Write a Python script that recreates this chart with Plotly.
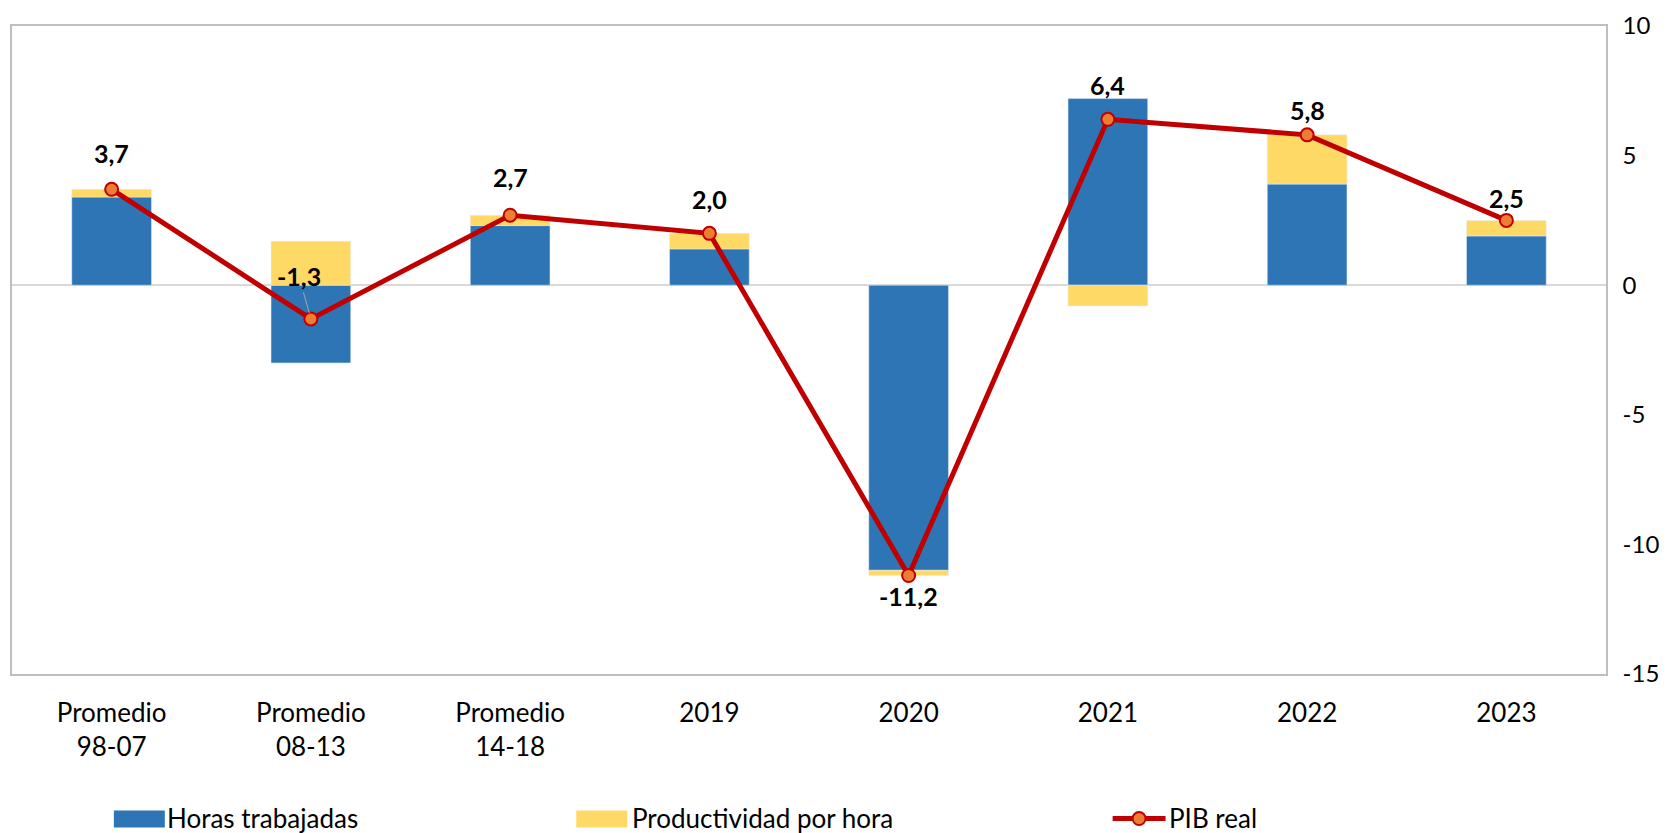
import plotly.graph_objects as go

# ---- data ----
categorias = ["Promedio<br>98-07", "Promedio<br>08-13", "Promedio<br>14-18",
              "2019", "2020", "2021", "2022", "2023"]
horas = [3.4, -3.0, 2.3, 1.4, -11.0, 7.2, 3.9, 1.9]
productividad = [0.3, 1.7, 0.4, 0.6, -0.2, -0.8, 1.9, 0.6]
pib = [3.7, -1.3, 2.7, 2.0, -11.2, 6.4, 5.8, 2.5]
y_ticks = [10, 5, 0, -5, -10, -15]
y_ticktext = ["10", "5", "0", "-5", "-10", "-15"]

AZUL = "#2E75B6"
AMARILLO = "#FFD966"
ROJO = "#C00000"
NARANJA = "#ED7D31"
FONT = "Lato"

# the page body has an 8px margin, so the figure is a bit smaller
OFF = 8
W, H = 1668, 825
ML, MR, MT, MB = 2, 70, 16, 159

fig = go.Figure()
fig.add_trace(go.Bar(x=categorias, y=horas, name="Horas trabajadas",
                     marker_color=AZUL, width=0.4))
fig.add_trace(go.Bar(x=categorias, y=productividad, name="Productividad por hora",
                     marker_color=AMARILLO, width=0.4))
fig.add_trace(go.Scatter(x=categorias, y=pib, name="PIB real", mode="lines+markers",
                         line=dict(color=ROJO, width=5),
                         marker=dict(size=13, color=NARANJA,
                                     line=dict(color=ROJO, width=2))))

# data labels (offsets in px); x given as category index
desplaz = [36, None, 38, 34, -20, 34, 25, 22]
for i, (v, dy) in enumerate(zip(pib, desplaz)):
    txt = f"{v:.1f}".replace(".", ",")
    if dy is None:
        fig.add_annotation(x=i, y=v, text=txt, showarrow=True, ax=-12, ay=-43,
                           arrowhead=0, arrowwidth=1, arrowcolor="#A6A6A6", standoff=6,
                           font=dict(family=FONT, size=25, color="black", weight="bold"))
    else:
        fig.add_annotation(x=i, y=v, text=txt, showarrow=False, yshift=dy,
                           font=dict(family=FONT, size=25, color="black", weight="bold"))

# manual legend (page pixel -> paper)
pw, ph = W - ML - MR, H - MT - MB
def px(x):
    return (x - OFF - ML) / pw
def py(y):
    return (OFF + H - MB - y) / ph

leyenda = [("Horas trabajadas", AZUL, 112, 163),
           ("Productividad por hora", AMARILLO, 575, 629)]
for nombre, col, x0, xt in leyenda:
    fig.add_shape(type="rect", xref="paper", yref="paper",
                  x0=px(x0), x1=px(x0 + 51), y0=py(828), y1=py(811),
                  fillcolor=col, line_width=0)
    fig.add_annotation(xref="paper", yref="paper", x=px(xt), y=py(818), text=nombre,
                       showarrow=False, xanchor="left", yanchor="middle",
                       font=dict(family=FONT, size=26, color="black"))
fig.add_shape(type="line", xref="paper", yref="paper",
              x0=px(1112), x1=px(1165), y0=py(819), y1=py(819),
              line=dict(color=ROJO, width=5))
fig.add_shape(type="circle", xref="paper", yref="paper",
              x0=px(1132), x1=px(1145), y0=py(825.5), y1=py(812.5),
              fillcolor=NARANJA, line=dict(color=ROJO, width=2))
fig.add_annotation(xref="paper", yref="paper", x=px(1166), y=py(818), text="PIB real",
                   showarrow=False, xanchor="left", yanchor="middle",
                   font=dict(family=FONT, size=26, color="black"))

fig.update_layout(
    width=W, height=H,
    margin=dict(l=ML, r=MR, t=MT, b=MB),
    barmode="relative",
    showlegend=False,
    plot_bgcolor="white", paper_bgcolor="white",
    font=dict(family=FONT, size=26, color="black"),
)
fig.update_xaxes(type="category", range=[-0.5, 7.5], showline=True, mirror=True,
                 linecolor="#BFBFBF", linewidth=1.5, showgrid=False, ticks="",
                 ticklabelstandoff=15, tickfont=dict(size=26))
fig.update_yaxes(side="right", range=[-15, 10], tickvals=y_ticks, ticktext=y_ticktext,
                 showline=True, mirror=True, linecolor="#BFBFBF", linewidth=1.5,
                 showgrid=False, zeroline=True, zerolinecolor="#D9D9D9", zerolinewidth=2,
                 ticks="", ticklabelstandoff=10, ticklabeloverflow="allow",
                 tickfont=dict(size=24))

fig.write_html("out.html")
